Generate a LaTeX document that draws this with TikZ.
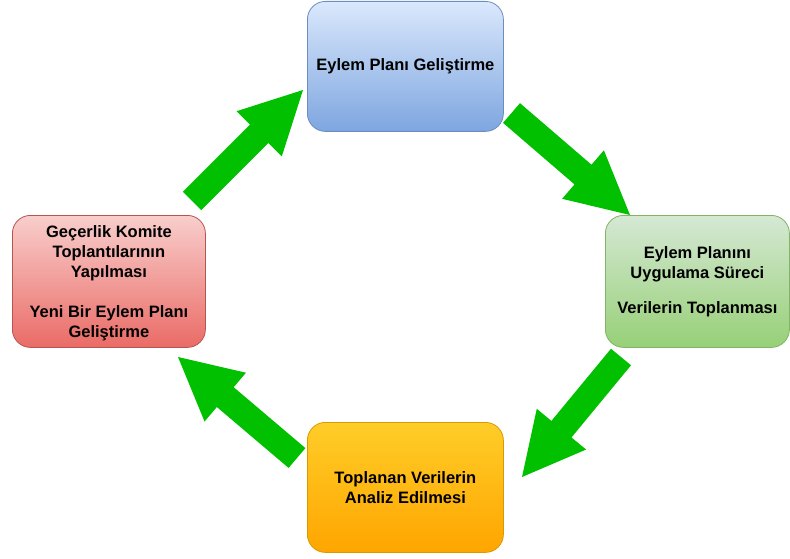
\documentclass[tikz,border=0pt]{standalone}
\usepackage{fontspec}
\setmainfont{Liberation Sans}
\usetikzlibrary{calc,shadings}
\definecolor{arrowgreen}{HTML}{00C000}
\definecolor{blueA}{HTML}{DAE8FC}\definecolor{blueB}{HTML}{7EA6E0}\definecolor{blueS}{HTML}{6C8EBF}
\definecolor{redA}{HTML}{F8CECC}\definecolor{redB}{HTML}{EA6B66}\definecolor{redS}{HTML}{B85450}
\definecolor{greenA}{HTML}{D5E8D4}\definecolor{greenB}{HTML}{97D077}\definecolor{greenS}{HTML}{82B366}
\definecolor{orangeA}{HTML}{FFCD28}\definecolor{orangeB}{HTML}{FFA500}\definecolor{orangeS}{HTML}{D79B00}
\tikzset{
  stagebox/.style={rounded corners=18pt, line width=0.8pt, anchor=north west,
    align=center, inner sep=2pt,
    font=\fontsize{16.5}{20}\selectfont\bfseries},
  bluebox/.style={stagebox, draw=blueS, top color=blueA, bottom color=blueB},
  redbox/.style={stagebox, draw=redS, top color=redA, bottom color=redB},
  greenbox/.style={stagebox, draw=greenS, top color=greenA, bottom color=greenB},
  orangebox/.style={stagebox, draw=orangeS, top color=orangeA, bottom color=orangeB},
}
\newcommand\fatarrow[2]{%
  \path ($(#2)!62pt!(#1)$) coordinate (hb);
  \fill[arrowgreen] ($(#1)!13pt!90:(#2)$) -- ($(hb)!13pt!90:(#2)$) -- ($(hb)!32pt!90:(#2)$)
    -- (#2) -- ($(hb)!32pt!-90:(#2)$) -- ($(hb)!13pt!-90:(#2)$) -- ($(#1)!13pt!-90:(#2)$) -- cycle;
}
\begin{document}
\begin{tikzpicture}[x=1pt,y=-1pt]
\useasboundingbox (0,0) rectangle (790,559);
\node[bluebox, minimum width=196pt, minimum height=130pt] (top) at (307,1) {Eylem Planı Geliştirme};
\node[redbox, minimum width=193pt, minimum height=132pt, text depth=-4pt] (left) at (12,215)
  {Geçerlik Komite\\Toplantılarının\\Yapılması\\[20pt]Yeni Bir Eylem Planı\\Geliştirme};
\node[greenbox, minimum width=184pt, minimum height=132pt] (right) at (605,215)
  {Eylem Planını\\Uygulama Süreci\\[15pt]Verilerin Toplanması};
\node[orangebox, minimum width=196pt, minimum height=130pt] (bottom) at (307,422)
  {Toplanan Verilerin\\Analiz Edilmesi};
\coordinate (a1t) at (192,201); \coordinate (a1h) at (303,90);
\coordinate (a2t) at (511.5,113); \coordinate (a2h) at (630,215);
\coordinate (a3t) at (621,357); \coordinate (a3h) at (522,477);
\coordinate (a4t) at (297,458); \coordinate (a4h) at (178,357);
\fatarrow{a1t}{a1h}
\fatarrow{a2t}{a2h}
\fatarrow{a3t}{a3h}
\fatarrow{a4t}{a4h}
\end{tikzpicture}
\end{document}
